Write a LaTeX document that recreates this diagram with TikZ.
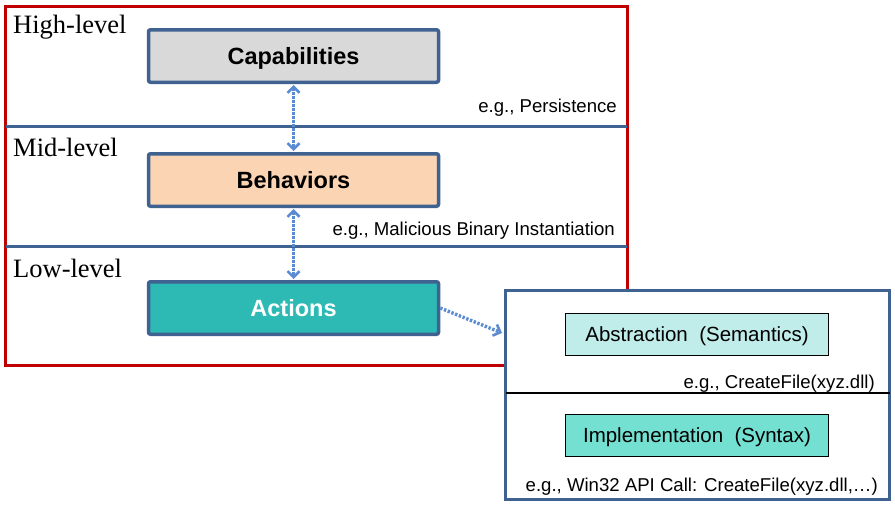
\documentclass[tikz,border=0pt]{standalone}
\usepackage{fontspec}
\setmainfont{Liberation Serif}
\newfontfamily\arial{Liberation Sans}
\usetikzlibrary{arrows.meta}
\definecolor{frred}{HTML}{C00000}
\definecolor{bgray}{HTML}{3F6290}
\definecolor{arrblue}{HTML}{5B8BD0}
\definecolor{capfill}{HTML}{D9D9D9}
\definecolor{behfill}{HTML}{FBD4B4}
\definecolor{actfill}{HTML}{2DBAB4}
\definecolor{absfill}{HTML}{C0ECEA}
\definecolor{impfill}{HTML}{73E0D2}
\tikzset{
  levelbox/.style={draw=bgray, line width=3.5pt, rounded corners=2pt, minimum width=290pt, minimum height=52.5pt, inner sep=0pt, text height=16.8pt, text depth=0pt, font=\arial\fontsize{23.5}{27}\selectfont\bfseries},
  subbox/.style={draw=black, line width=1pt, minimum width=263pt, minimum height=42pt, inner sep=0pt, text height=14.7pt, text depth=0pt, font=\arial\fontsize{20.5}{24}\selectfont},
  levellabel/.style={anchor=base west, inner sep=0pt, font=\fontsize{26.5}{30}\selectfont},
  eglabel/.style={anchor=base east, inner sep=0pt, font=\arial\fontsize{18.6}{22}\selectfont},
  dotarrow/.style={draw=arrblue, line width=3.4pt, dash pattern=on 2.4pt off 1.6pt, {Straight Barb[length=6pt,width=12pt,line width=2.6pt]}-{Straight Barb[length=6pt,width=12pt,line width=2.6pt]}},
  dotarrowone/.style={draw=arrblue, line width=3.4pt, dash pattern=on 2.4pt off 1.6pt, -{Straight Barb[length=6pt,width=12pt,line width=2.6pt]}},
}
\begin{document}
\begin{tikzpicture}[x=1pt,y=-1pt]
\useasboundingbox (0,0) rectangle (895,506);
% outer red frame and level separators
\draw[frred, line width=3pt] (5.5,6) rectangle (627,365);
\draw[bgray, line width=3pt] (5.5,126) -- (627,126);
\draw[bgray, line width=3pt] (5.5,246) -- (627,246);
% level labels
\node[levellabel] (hl) at (13,33) {High-level};
\node[levellabel] (ml) at (13,156) {Mid-level};
\node[levellabel] (ll) at (13,277) {Low-level};
% level boxes
\node[levelbox, fill=capfill] (cap) at (293.5,56) {Capabilities};
\node[levelbox, fill=behfill] (beh) at (293.5,180) {Behaviors};
\node[levelbox, fill=actfill, text=white] (act) at (293.5,308) {Actions};
% examples
\node[eglabel] (eg1) at (617,112) {e.g., Persistence};
\node[eglabel] (eg2) at (615,235) {e.g., Malicious Binary Instantiation};
% right box (covers the red frame)
\draw[bgray, fill=white, line width=3pt] (505.5,290.5) rectangle (889.5,499.5);
\draw[black, line width=2pt] (505.5,393) -- (889.5,393);
\node[subbox, fill=absfill] (abs) at (697,334) {Abstraction~~(Semantics)};
\node[subbox, fill=impfill] (imp) at (697,435) {Implementation~~(Syntax)};
\node[eglabel] (eg3) at (875,388) {e.g., CreateFile(xyz.dll)};
\node[eglabel] (eg4) at (878,491) {e.g., Win32 API Call: CreateFile(xyz.dll,…)};
\coordinate (tip) at (502,333);
% arrows
\draw[dotarrow, shorten <=1pt, shorten >=1pt] (cap) -- (beh);
\draw[dotarrow, shorten <=1pt, shorten >=1pt] (beh) -- (act);
\draw[dotarrowone] (act.east) -- (tip);
\end{tikzpicture}
\end{document}
